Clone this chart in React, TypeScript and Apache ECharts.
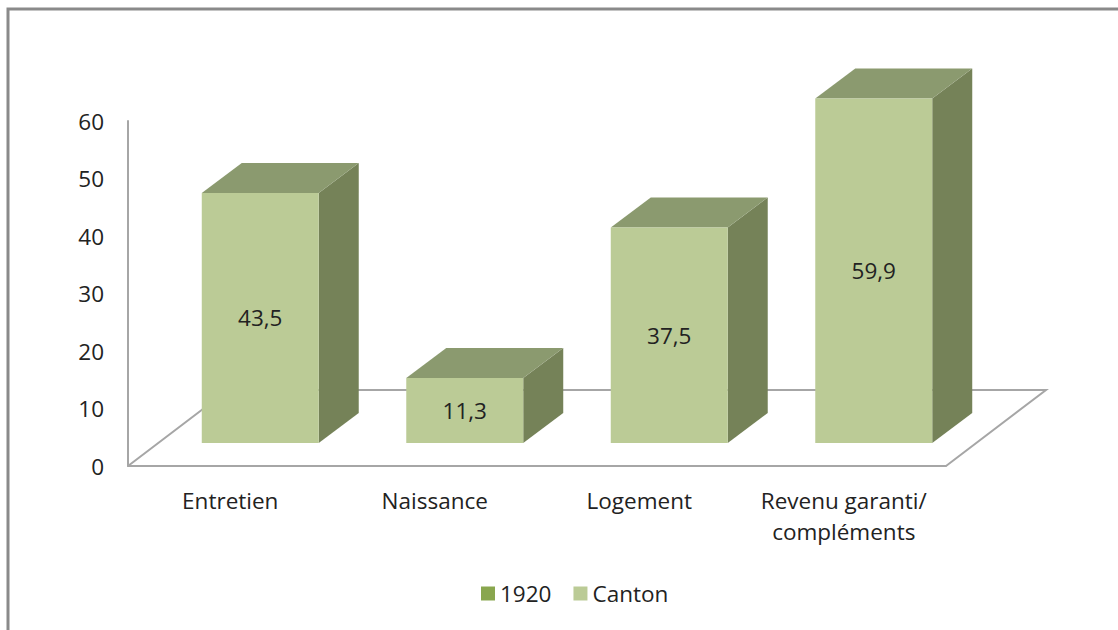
import React, { useEffect, useRef } from "react";
import * as echarts from "echarts";

// ---- data ----
const categories = ["Entretien", "Naissance", "Logement", "Revenu garanti/\ncompléments"];
const cantonValues = [43.5, 11.3, 37.5, 59.9];
const values1920: (number | null)[] = [null, null, null, null];
const seriesNames = ["1920", "Canton"];
const yMin = 0;
const yMax = 60;
const yInterval = 10;

// ---- style ----
const FONT = "Open Sans";
const TEXT = "#222222";
const AXIS = "#a6a6a6";
const FRONT = "#bbcb96";
const TOP = "#8b9a6f";
const SIDE = "#758258";
const COLOR_1920 = "#89a64e";
const FLOOR_DEPTH = [100, -76];
const BAR_SHIFT = [30, -23];
const BAR_DEPTH = [40, -30];
const BAR_RATIO = 0.572;
const FS = 22.5;

const fmt = (v: number) => v.toFixed(1).replace(".", ",");

export default function App() {
  const ref = useRef<HTMLDivElement>(null);

  useEffect(() => {
    if (!ref.current) return;
    const chart = echarts.init(ref.current, undefined, { renderer: "svg" });

    const floorItem = (params: any, api: any) => {
      const b = api.size([1, 0])[0];
      const p0 = api.coord([0, 0]);
      const p3 = api.coord([categories.length - 1, 0]);
      const fl = [p0[0] - b / 2, p0[1]];
      const fr = [p3[0] + b / 2, p3[1]];
      return {
        type: "polyline",
        shape: {
          points: [
            fl,
            [fl[0] + FLOOR_DEPTH[0], fl[1] + FLOOR_DEPTH[1]],
            [fr[0] + FLOOR_DEPTH[0], fr[1] + FLOOR_DEPTH[1]],
            fr,
          ],
        },
        style: { stroke: AXIS, lineWidth: 2, fill: null },
      };
    };

    const barItem = (params: any, api: any) => {
      const idx = api.value(0);
      const val = api.value(1);
      const topP = api.coord([idx, val]);
      const baseP = api.coord([idx, 0]);
      const b = api.size([1, 0])[0];
      const w = b * BAR_RATIO;
      const left = topP[0] - w / 2 + BAR_SHIFT[0];
      const right = left + w;
      const ty = topP[1] + BAR_SHIFT[1];
      const by = baseP[1] + BAR_SHIFT[1];
      const dx = BAR_DEPTH[0];
      const dy = BAR_DEPTH[1];
      return {
        type: "group",
        children: [
          {
            type: "polygon",
            shape: { points: [[right, ty], [right + dx, ty + dy], [right + dx, by + dy], [right, by]] },
            style: { fill: SIDE },
          },
          {
            type: "polygon",
            shape: { points: [[left, ty], [left + dx, ty + dy], [right + dx, ty + dy], [right, ty]] },
            style: { fill: TOP },
          },
          {
            type: "rect",
            shape: { x: left, y: ty, width: w, height: by - ty },
            style: { fill: FRONT },
          },
          {
            type: "text",
            x: left + w / 2,
            y: (ty + by) / 2,
            style: {
              text: fmt(val),
              align: "center",
              verticalAlign: "middle",
              fontFamily: FONT,
              fontSize: FS,
              fill: TEXT,
            },
          },
        ],
      };
    };

    chart.setOption({
      animation: false,
      textStyle: { fontFamily: FONT },
      grid: { left: 128, right: 172, top: 121, bottom: 164 },
      xAxis: {
        type: "category",
        data: categories,
        axisLine: { show: true, lineStyle: { color: AXIS, width: 2 } },
        axisTick: { show: false },
        axisLabel: {
          color: TEXT,
          fontSize: FS,
          lineHeight: 31,
          margin: 19,
          fontFamily: FONT,
          interval: 0,
          hideOverlap: false,
        },
      },
      yAxis: {
        type: "value",
        min: yMin,
        max: yMax,
        interval: yInterval,
        axisLine: { show: true, lineStyle: { color: AXIS, width: 2 } },
        axisTick: { show: false },
        splitLine: { show: false },
        axisLabel: { color: TEXT, fontSize: FS, margin: 24, fontFamily: FONT },
      },
      legend: {
        data: seriesNames.map((n) => ({ name: n, icon: "rect" })),
        left: 476,
        top: 577,
        itemWidth: 14,
        itemHeight: 14,
        itemGap: 22,
        textStyle: { color: TEXT, fontSize: FS, fontFamily: FONT },
      },
      graphic: [
        {
          type: "rect",
          shape: { x: 8, y: 9, width: 1300, height: 800 },
          style: { fill: null, stroke: "#8a8a8a", lineWidth: 3 },
          silent: true,
        },
      ],
      series: [
        {
          type: "custom",
          name: "floor",
          renderItem: floorItem,
          data: [[0, 0]],
          z: 1,
          silent: true,
        },
        {
          type: "custom",
          name: seriesNames[0],
          itemStyle: { color: COLOR_1920 },
          renderItem: barItem,
          data: values1920.map((v, i) => [i, v]).filter((d) => d[1] != null),
          encode: { x: 0, y: 1 },
          z: 2,
        },
        {
          type: "custom",
          name: seriesNames[1],
          itemStyle: { color: FRONT },
          renderItem: barItem,
          data: cantonValues.map((v, i) => [i, v]),
          encode: { x: 0, y: 1 },
          z: 3,
        },
      ],
    });

    return () => chart.dispose();
  }, []);

  return (
    <div
      ref={ref}
      style={{ position: "fixed", left: 0, top: 0, width: 1118, height: 630, background: "#ffffff" }}
    />
  );
}
